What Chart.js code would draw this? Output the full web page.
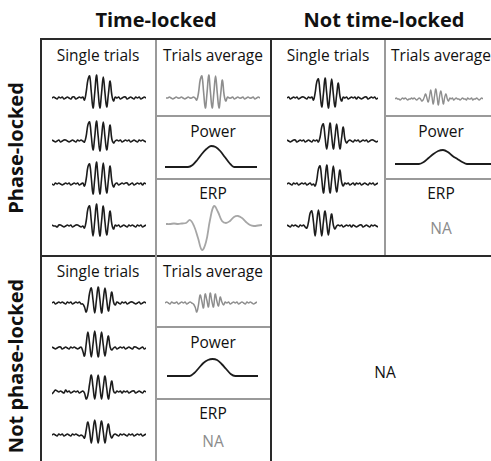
<!DOCTYPE html>
<html>
<head>
<meta charset="utf-8">
<script src="https://cdn.jsdelivr.net/npm/chart.js@4.4.1/dist/chart.umd.min.js"></script>
<style>
  html, body { margin: 0; padding: 0; background: #fff; }
  #board { position: relative; width: 491px; height: 461px; overflow: hidden; font-family: "Open Sans", "Lato", sans-serif; color: #111; }
  .ln { position: absolute; }
  .thick { background: #2a2a2a; }
  .thin { background: #9a9a9a; }
  .lbl { position: absolute; transform: translate(-50%, -50%); white-space: nowrap; font-size: 15.5px; }
  .head { font-weight: 700; font-size: 20px; }
  .side { font-weight: 700; font-size: 20px; transform: translate(-50%, -50%) rotate(-90deg); }
  .na { color: #8c8c8c; }
  canvas { position: absolute; }
</style>
</head>
<body>
<div id="board"></div>
<script>
// single trials, time-locked & phase-locked (amplitude, up = positive)
const trialsTimePhase = [
  [0,1,0,-1,1,0,1,-1,0,1,0,-1,1,1,-1,0,1,0,1, -2,6,18,22,6,-10,5,23,6,-10,5,21,5,-9,4,17,3,-3,1, 0,1,-1,0,1,1,-1,0,1,0,-1,1,0,1,-1,0,1,0],
  [1,0,-1,0,1,-1,0,1,1,0,-1,0,1,0,-1,1,0,1,0, -1,5,16,19,5,-9,4,20,5,-10,4,19,4,-9,3,16,2,-2,0, 1,0,1,-1,0,1,0,1,-1,0,1,0,-1,1,0,1,0,-1],
  [0,-1,1,0,1,0,-1,0,1,0,1,-1,0,1,0,1,-1,0,1, -2,5,17,20,6,-10,5,22,6,-10,5,21,5,-9,4,18,3,-3,0, 1,-1,0,1,0,1,1,-1,0,1,-1,0,1,0,1,-1,1,0],
  [1,0,0,-1,1,1,0,-1,0,1,0,1,-1,0,1,1,0,-1,0, -2,5,17,20,5,-10,5,22,6,-10,5,20,4,-9,3,15,2,-3,1, 0,1,-1,0,1,0,-1,1,0,1,0,-1,1,0,1,-1,0,1]
];

// single trials, phase-locked but not time-locked (burst onset drifts)
const trialsPhaseOnly = [
  [0,1,-1,0,1,0,1,-1,0,1,1,0,-1,1,0,1, -2,5,16,19,5,-9,4,20,5,-10,4,19,4,-9,3,15,2,-3,1, 0,1,-1,0,1,0,1,-1,1,0,-1,0,1,1,-1,0,1,0,1,-1,0],
  [1,0,-1,0,1,1,-1,0,1,0,1,-1,0,1,0,-1,1,0,1, -1,4,14,17,4,-8,4,18,5,-8,4,17,4,-8,3,14,2,-2,0, 1,0,-1,1,0,1,-1,0,1,0,1,-1,0,1,1,0,-1,0],
  [0,1,0,-1,1,0,1,-1,0,1,0,1,-1,0,1,-1,0, -2,4,15,18,5,-9,4,19,5,-9,4,18,4,-8,3,14,2,-2,1, 0,1,-1,0,1,-1,1,0,1,-1,0,1,0,-1,1,0,1,-1,0,1],
  [1,0,-1,1,0,1,0,-1,1,0,1,-1, -2,4,13,15,4,-10,4,16,4,-10,4,15,3,-9,3,12,1,-3,0, 1,0,1,-1,0,1,0,1,-1,1,0,-1,0,1,1,-1,0,1,0,-1,1,0,1,0,-1]
];

// single trials, time-locked but not phase-locked (phase differs per trial)
const trialsTimeOnly = [
  [0,1,-1,0,1,0,1,0,-1,1,0,1,-1,0,1,0,1,-1, -1,-4,-9,-2,10,15,3,-10,3,16,4,-10,3,15,3,-8,2,11,1,-2, 1,0,-1,1,0,1,-1,0,1,1,0,-1,0,1,-1,0,1,0],
  [1,0,-1,0,1,1,-1,0,1,0,-1,1,0,1,0,-1,0, 1,-3,-8,4,16,4,-9,4,17,4,-9,3,16,3,-8,3,12,1,-2, 0,1,-1,0,1,0,1,-1,0,1,0,-1,1,1,0,-1,0,1,-1,0],
  [-2,0,2,1,0,1,0,-1,2,0,1,-1,0,1,0,1,-1,0,1, -1,-7,-3,8,17,5,-7,5,17,5,-7,5,16,4,-7,3,11,1,-1, 1,0,1,-1,1,0,1,-1,0,1,1,-1,0,1,0,-1,1,0],
  [0,1,0,-1,1,0,1,-1,0,1,0,-1,1,0,1,0,-1,0, -1,-3,5,13,4,-8,4,15,4,-8,4,14,3,-8,3,11,1,-3,0, 1,0,-1,1,0,1,0,-1,1,0,1,-1,0,1,0,1,-1,0,1]
];

// trial averages
const avgTimePhase = [0,0,1,0,-1,0,1,0,0,1,0,-1,0,1,0,0,1,0, -2,5,18,22,6,-10,5,23,6,-10,5,22,5,-10,4,18,3,-3, 1,0,0,1,-1,0,1,0,0,1,-1,0,1,0,0,1,-1,0,1,0];
const avgPhaseOnly = [0,1,0,0,-1,0,1,0,1,0,-1,0,0,1,0,1,0,-1,0,1, 0,-2,-1,2,5,1,-3,2,9,2,-5,3,10,2,-6,3,8,1,-5,2,5,0,-2,1, 0,1,-1,0,1,0,0,-1,0,1,0,0,-1,1,0,0,1,-1,0,0,1,0,-1,0,1,0];
const avgTimeOnly = [0,1,0,-1,1,0,0,1,-1,0,1,0,1,-1,0,1,0, -1,-4,-9,-2,8,2,-5,9,3,-4,10,2,-4,9,2,-3,6,1,-2,1, 0,1,-1,0,1,0,1,-1,0,1,0,-1,1,0,1,0,-1,0,1];

// power envelopes
const powerTimePhase = [0,0,0,0,0,0,2,7,13,18,21,20,16,10,4,0,0,0,0,0,0];
const powerPhaseOnly = [0,0,0,0,0,0,2,6,10,13,14,12,8,5,2,0,0,0,0,0,0];
const powerTimeOnly  = [0,0,0,0,0,0,3,8,13,16,17,16,12,7,2,0,0,0,0,0,0];

// event-related potential
const erpTimePhase = [0,0,0.5,0,0.5,1,4,-2,-14,-26,-18,4,18,12,3,1,3,7,8,6,2,-1,-2,-1.5,-1];

const board = document.getElementById('board');

function line(cls, x, y, w, h) {
  const d = document.createElement('div');
  d.className = 'ln ' + cls;
  Object.assign(d.style, { left: x + 'px', top: y + 'px', width: w + 'px', height: h + 'px' });
  board.appendChild(d);
}

function label(text, x, y, cls) {
  const d = document.createElement('div');
  d.className = 'lbl ' + (cls || '');
  d.textContent = text;
  d.style.left = x + 'px';
  d.style.top = y + 'px';
  board.appendChild(d);
}

function trace(values, x, y, w, h, yMin, yMax, color, width, mode) {
  const c = document.createElement('canvas');
  c.width = w; c.height = h;
  c.style.left = x + 'px';
  c.style.top = y + 'px';
  board.appendChild(c);
  return new Chart(c.getContext('2d'), {
    type: 'line',
    data: {
      labels: values.map((_, i) => i),
      datasets: [{
        data: values,
        borderColor: color,
        borderWidth: width,
        pointRadius: 0,
        tension: 0.4,
        cubicInterpolationMode: mode || 'default',
        fill: false
      }]
    },
    options: {
      responsive: false,
      maintainAspectRatio: false,
      animation: false,
      events: [],
      layout: { padding: 0 },
      plugins: { legend: { display: false }, tooltip: { enabled: false } },
      scales: {
        x: { display: false },
        y: { display: false, min: yMin, max: yMax }
      }
    }
  });
}

// grid
line('thick', 40, 38, 451, 2);
line('thick', 40, 38, 2, 423);
line('thick', 270, 38, 2, 423);
line('thick', 40, 255, 451, 2);
line('thin', 155, 40, 2, 421);
line('thin', 384, 40, 2, 215);
line('thin', 156, 115, 114, 2);
line('thin', 156, 178, 114, 2);
line('thin', 386, 115, 105, 2);
line('thin', 386, 178, 105, 2);
line('thin', 156, 326, 114, 2);
line('thin', 156, 398, 114, 2);

// headings
label('Time-locked', 156, 19, 'head');
label('Not time-locked', 384, 19, 'head');
label('Phase-locked', 15, 148, 'side');
label('Not phase-locked', 15, 366, 'side');

label('Single trials', 98, 55);
label('Trials average', 213, 55);
label('Single trials', 328, 55);
label('Trials average', 441, 55);
label('Power', 213, 131);
label('ERP', 213, 193);
label('Power', 441, 131);
label('ERP', 441, 193);
label('NA', 441, 228, 'na');
label('Single trials', 98, 271);
label('Trials average', 213, 271);
label('Power', 213, 342);
label('ERP', 213, 413);
label('NA', 213, 441, 'na');
label('NA', 385, 372);

const ink = '#1c1c1c';
const grey = '#8e8e8e';
const rowsTop = [98, 141, 184, 226];
const rowsBottom = [303, 348, 392, 435];

trialsTimePhase.forEach((v, i) => trace(v, 52, rowsTop[i] - 26, 94, 39, -13, 26, ink, 1.6));
trialsPhaseOnly.forEach((v, i) => trace(v, 287, rowsTop[i] - 26, 91, 39, -13, 26, ink, 1.6));
trialsTimeOnly.forEach((v, i) => trace(v, 52, rowsBottom[i] - 26, 94, 39, -13, 26, ink, 1.6));

trace(avgTimePhase, 166, 98 - 26, 94, 39, -13, 26, grey, 1.6);
trace(avgPhaseOnly, 395, 99 - 26, 88, 39, -13, 26, grey, 1.4);
trace(avgTimeOnly, 165, 303 - 26, 92, 39, -13, 26, grey, 1.5);

trace(powerTimePhase, 165, 167 - 26, 92, 30, -4, 26, ink, 1.8, 'monotone');
trace(powerPhaseOnly, 395, 164 - 26, 96, 30, -4, 26, ink, 1.8, 'monotone');
trace(powerTimeOnly, 167, 376 - 26, 91, 30, -4, 26, ink, 1.8, 'monotone');

trace(erpTimePhase, 166, 224 - 22, 96, 54, -32, 22, '#a6a6a6', 1.8);
</script>
</body>
</html>
